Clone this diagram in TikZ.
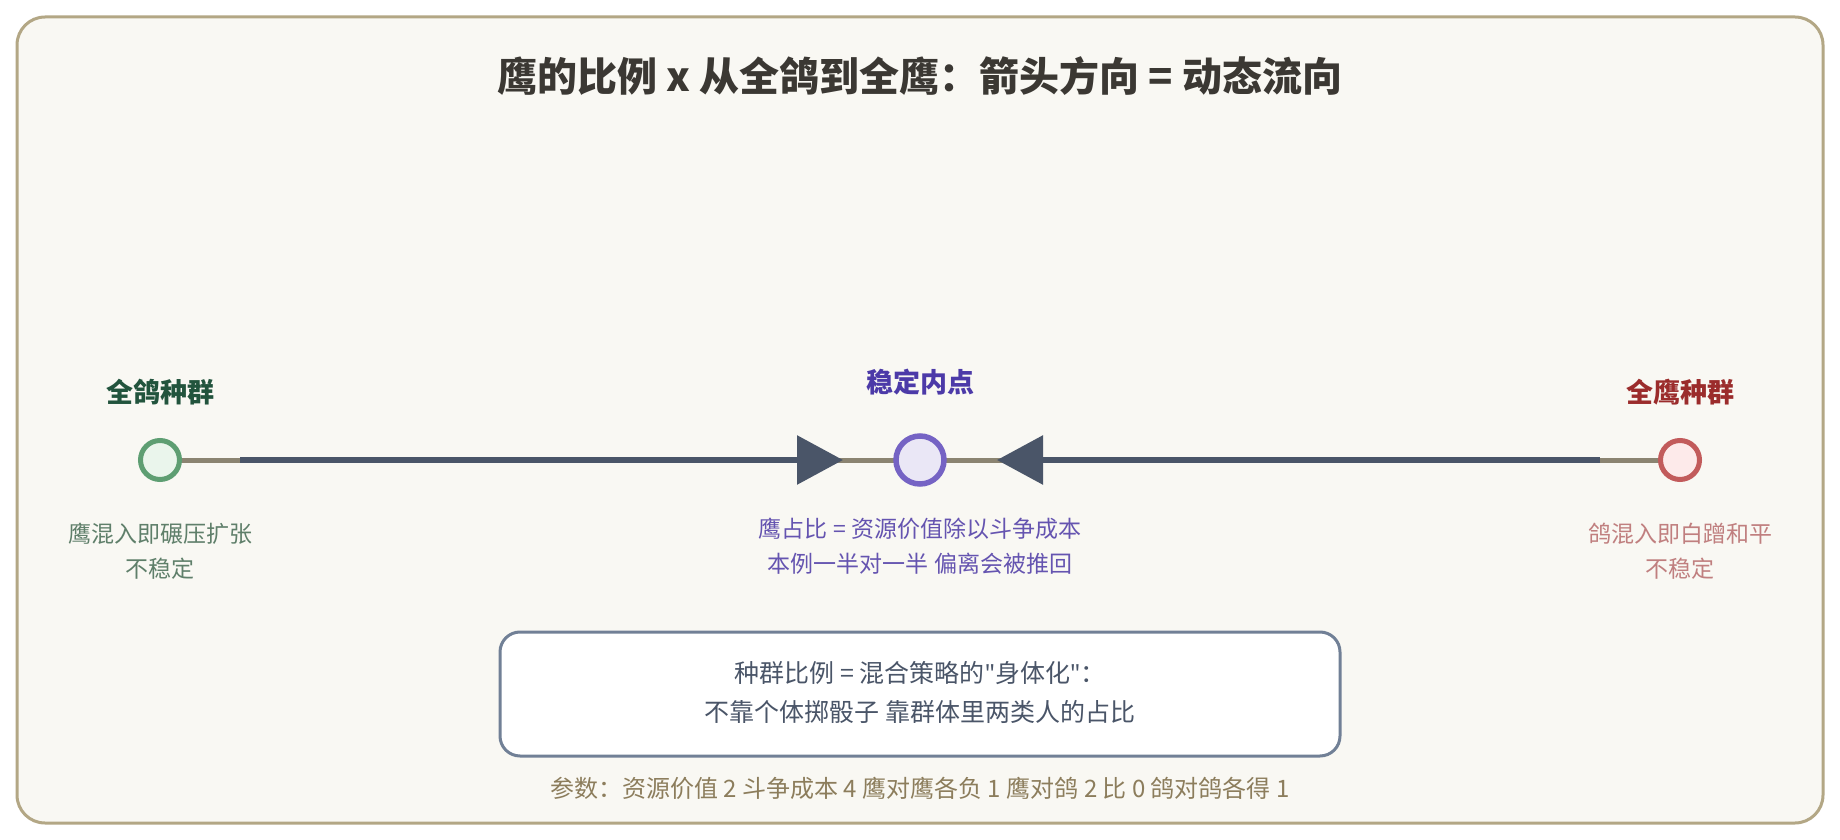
\documentclass[tikz,border=0pt]{standalone}
\usepackage{fontspec}
\setmainfont{Noto Sans CJK SC}
\newfontfamily\latinfont{Noto Sans}
\usetikzlibrary{arrows.meta}

\definecolor{frameC}{HTML}{B3A785}
\definecolor{paperC}{HTML}{F9F8F3}
\definecolor{titleC}{HTML}{3B3833}
\definecolor{axisC}{HTML}{8B8471}
\definecolor{flowC}{HTML}{4A5568}
\definecolor{boxC}{HTML}{718096}
\definecolor{noteC}{HTML}{8C7D5C}
\definecolor{doveC}{HTML}{5E9E72}
\definecolor{doveF}{HTML}{EAF5EC}
\definecolor{doveT}{HTML}{22543D}
\definecolor{doveS}{HTML}{5F7F6A}
\definecolor{midC}{HTML}{7563C4}
\definecolor{midF}{HTML}{EAE7F6}
\definecolor{midT}{HTML}{4C3AA8}
\definecolor{midS}{HTML}{6554B0}
\definecolor{hawkC}{HTML}{C25B5B}
\definecolor{hawkF}{HTML}{FDEAEA}
\definecolor{hawkT}{HTML}{9B2C2C}
\definecolor{hawkS}{HTML}{C07F7F}

\tikzset{
  pt/.style={circle, draw, line width=5pt, inner sep=0pt, minimum size=39pt},
  head/.style={font=\bfseries\fontsize{27}{30}\selectfont},
  sub/.style={align=center, font=\fontsize{23}{35}\selectfont},
  flow/.style={flowC, line width=6pt, -{Triangle[length=46pt,width=48pt]}},
  axis/.style={axisC, line width=5pt}
}

\begin{document}
\begin{tikzpicture}[x=1pt,y=-1pt]
  % page and frame
  \fill[white] (0,0) rectangle (1840,840);
  \useasboundingbox (0,0) rectangle (1840,840);
  \draw[frameC, fill=paperC, line width=3pt, rounded corners=28pt] (17,17) rectangle (1823,823);
  \node[titleC, font=\bfseries\fontsize{40}{46}\selectfont] (title) at (920,76)
    {鹰的比例 x 从全鸽到全鹰：箭头方向 = 动态流向};

  % axis first, points on top
  \coordinate (dovep) at (160,460);
  \coordinate (midp) at (920,460);
  \coordinate (hawkp) at (1680,460);
  \draw[axis] (dovep) -- (hawkp);

  % flows toward the inner point
  \coordinate (lstart) at (240,460);
  \coordinate (ltip) at (843,460);
  \coordinate (rstart) at (1600,460);
  \coordinate (rtip) at (997,460);
  \draw[flow] (lstart) -- (ltip);
  \draw[flow] (rstart) -- (rtip);

  % the three states
  \node[pt, draw=doveC, fill=doveF] (dove) at (dovep) {};
  \node[pt, draw=midC, fill=midF, line width=5.5pt, minimum size=48pt] (mid) at (midp) {};
  \node[pt, draw=hawkC, fill=hawkF] (hawk) at (hawkp) {};

  \node[head, doveT] (doveh) at (160,392) {全鸽种群};
  \node[head, midT] (midh) at (920,382) {稳定内点};
  \node[head, hawkT] (hawkh) at (1680,392) {全鹰种群};

  \node[sub, doveS] (doves) at (160,551) {鹰混入即碾压扩张\\不稳定};
  \node[sub, midS] (mids) at (920,546) {鹰占比 = 资源价值除以斗争成本\\本例一半对一半 偏离会被推回};
  \node[sub, hawkS] (hawks) at (1680,551) {鸽混入即白蹭和平\\不稳定};

  % note box
  \draw[boxC, fill=white, line width=3pt, rounded corners=20pt] (500,632) rectangle (1340,756);
  \node[flowC, align=center, font=\fontsize{25}{39}\selectfont] (boxt) at (920,692)
    {种群比例 = 混合策略的{\latinfont"}身体化{\latinfont"}：\\不靠个体掷骰子 靠群体里两类人的占比};
  \node[noteC, font=\fontsize{24}{28}\selectfont] (params) at (920,788)
    {参数：资源价值 2 斗争成本 4 鹰对鹰各负 1 鹰对鸽 2 比 0 鸽对鸽各得 1};
\end{tikzpicture}
\end{document}
